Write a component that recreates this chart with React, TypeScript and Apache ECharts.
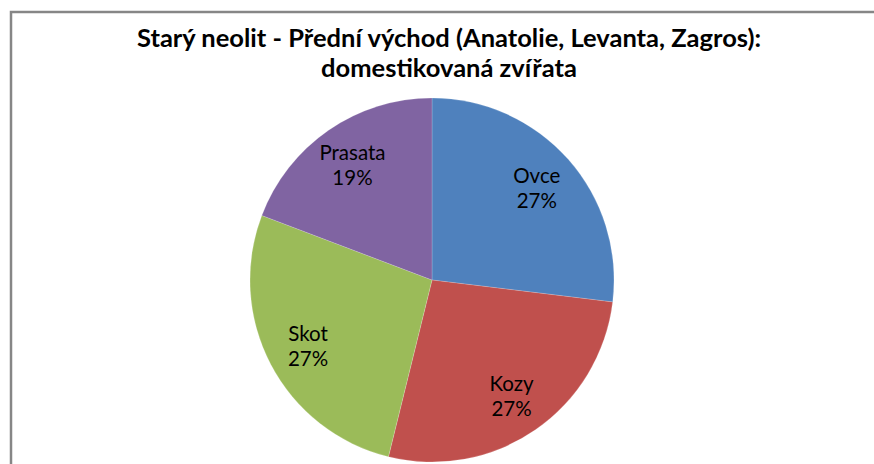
import React, { useEffect, useRef } from "react";
import * as echarts from "echarts";

const titleLines = ["Starý neolit - Přední východ (Anatolie, Levanta, Zagros):", "domestikovaná zvířata"];
const categories = ["Ovce", "Kozy", "Skot", "Prasata"];
const values = [7, 7, 7, 5];
const colors = ["#4F81BD", "#C0504D", "#9BBB59", "#8064A2"];

export default function App() {
  const ref = useRef<HTMLDivElement>(null);
  useEffect(() => {
    document.body.style.margin = "0";
    const chart = echarts.init(ref.current!, null, { renderer: "svg" });
    const data = categories.map((name, i) => ({ name, value: values[i], itemStyle: { color: colors[i] } }));
    chart.setOption({
      animation: false,
      backgroundColor: "#ffffff",
      title: {
        text: titleLines.join("\n"),
        left: 444,
        top: 17,
        textAlign: "center",
        textStyle: { fontFamily: "Lato", fontWeight: "bold", fontSize: 25.5, color: "#000", lineHeight: 30 },
      },
      graphic: [
        {
          type: "rect",
          shape: { x: 11, y: 12, width: 900, height: 500 },
          style: { fill: "none", stroke: "#868686", lineWidth: 2.5 },
          silent: true,
        },
      ],
      series: [
        {
          type: "pie",
          center: [432, 280],
          radius: [0, 182],
          startAngle: 90,
          clockwise: true,
          data,
          label: { show: false },
          labelLine: { show: false },
          itemStyle: { borderColor: "rgba(255,255,255,0.35)", borderWidth: 0.5 },
          silent: true,
        },
        {
          type: "pie",
          center: [432, 280],
          radius: [92, 182],
          startAngle: 90,
          clockwise: true,
          data: categories.map((name, i) => ({ name, value: values[i], itemStyle: { color: "rgba(0,0,0,0)" } })),
          label: {
            show: true,
            position: "inside",
            fontFamily: "Lato",
            fontSize: 20.5,
            color: "#000",
            lineHeight: 25,
            formatter: (p: any) => `${p.name}\n${Math.round(p.percent)}%`,
          },
          labelLine: { show: false },
          silent: true,
        },
      ],
    });
    return () => chart.dispose();
  }, []);
  return <div ref={ref} style={{ width: 874, height: 464 }} />;
}
